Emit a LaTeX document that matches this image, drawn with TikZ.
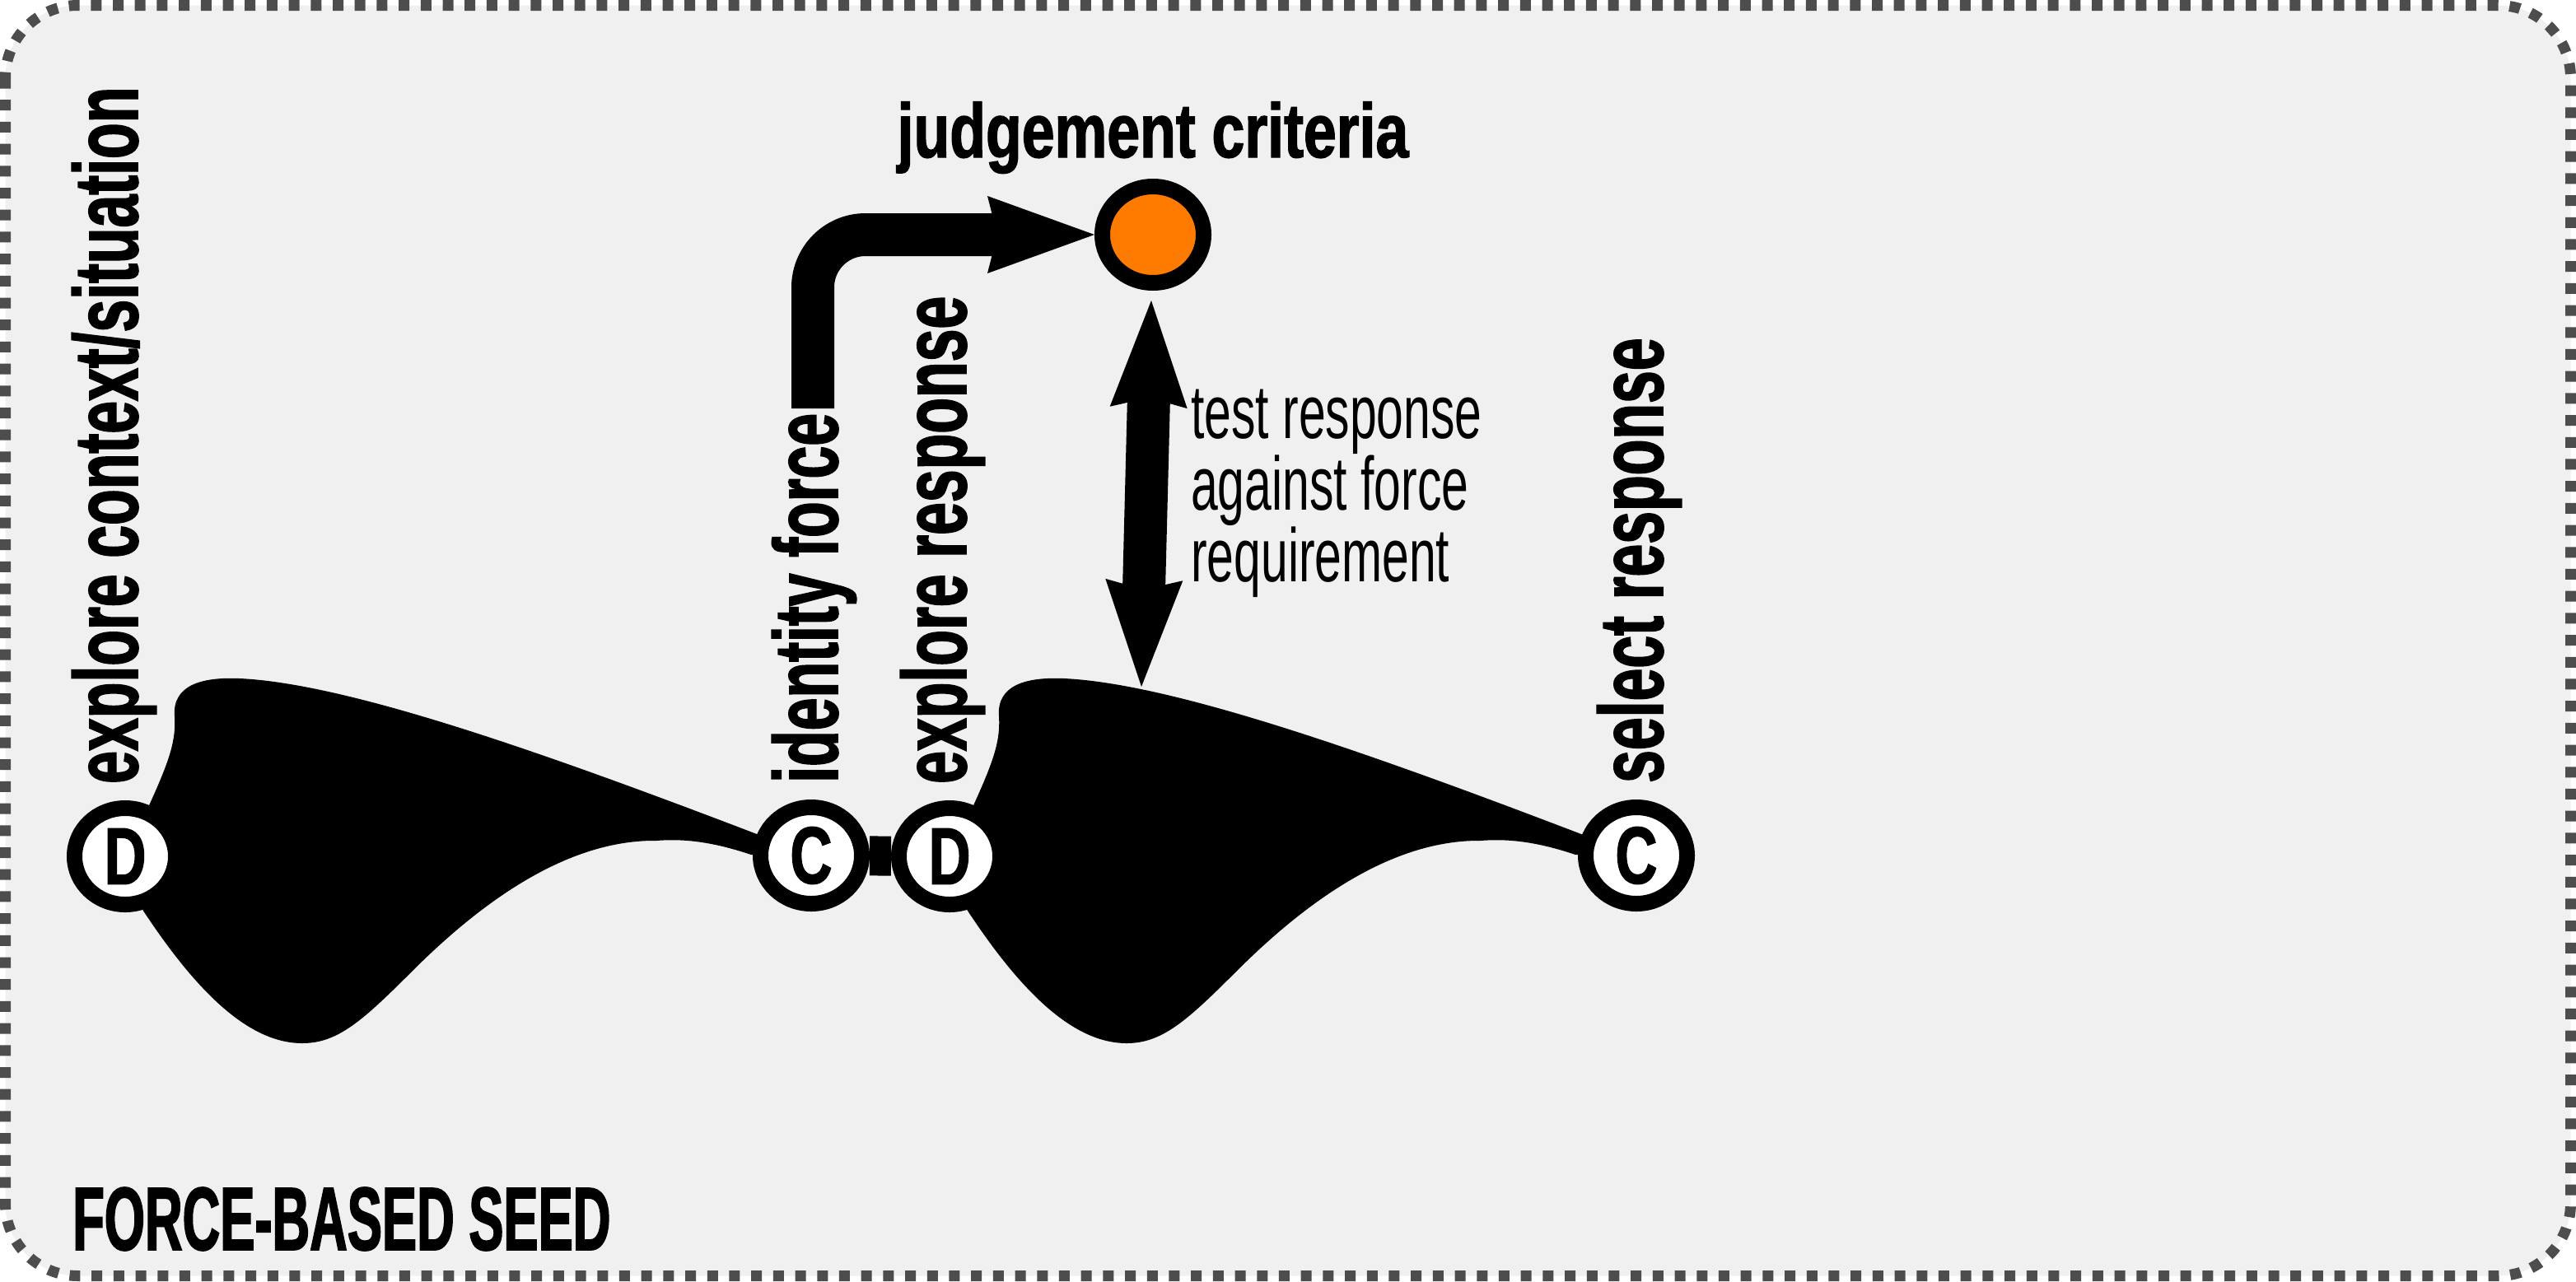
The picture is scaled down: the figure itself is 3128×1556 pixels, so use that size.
\documentclass[tikz,border=0pt]{standalone}
\usepackage{fontspec}
\usetikzlibrary{arrows.meta,shapes.geometric,backgrounds}
\newfontfamily\stagefont[FakeStretch=0.72,FakeBold=1.5]{Liberation Sans}
\newfontfamily\labelfont[FakeStretch=0.65,FakeBold=1.5]{Liberation Sans}
\newfontfamily\critfont[FakeStretch=0.77,FakeBold=1.5]{Liberation Sans}
\newfontfamily\seedfont[FakeStretch=0.58,FakeBold=1.5]{Liberation Sans}
\newfontfamily\notefont[FakeStretch=0.64]{Liberation Sans}
\definecolor{framegray}{HTML}{4D4D4D}
\definecolor{framefill}{HTML}{F0F0F0}
\definecolor{critorange}{HTML}{FF7B00}
\tikzset{
  fatstealth/.tip={Stealth[length=130pt,width=94pt,inset=12pt,line width=0pt]},
  seedframe/.style={draw=framegray,fill=framefill,line width=13pt,dash pattern=on 13pt off 13.7pt,rounded corners=88pt},
  stage/.style={ellipse,draw=black,line width=19pt,fill=white,minimum width=123pt,minimum height=117pt,inner sep=0pt,font=\stagefont\bfseries\fontsize{98}{98}\selectfont},
  critnode/.style={stage,fill=critorange},
  vlabel/.style={rotate=90,anchor=base west,inner sep=0pt,font=\labelfont\bfseries\fontsize{110}{110}\selectfont},
  critlabel/.style={anchor=base,inner sep=0pt,font=\critfont\bfseries\fontsize{93}{93}\selectfont},
  seedlabel/.style={anchor=base west,inner sep=0pt,font=\seedfont\bfseries\fontsize{109}{109}\selectfont},
  notelabel/.style={anchor=base west,inner sep=0pt,align=left,font=\notefont\fontsize{92}{81}\selectfont},
  link/.style={draw=black,line width=48pt},
  fat arrow/.style={draw=black,line width=52pt,-fatstealth}
}
\begin{document}
\begin{tikzpicture}[x=1pt,y=-1pt]
\useasboundingbox (0,0) rectangle (3128,1556);
% stages
\node[stage] (d1) at (152,1040) {D};
\node[stage] (c1) at (985,1039) {C};
\node[stage] (d2) at (1153,1040) {D};
\node[stage] (c2) at (1987,1039) {C};
\node[critnode] (crit) at (1400,285) {};
% labels
\node[vlabel] (l1) at ([shift={(15pt,20pt)}]d1.north) {explore context/situation};
\node[vlabel] (l2) at ([shift={(32pt,20pt)}]c1.north) {identity force};
\node[vlabel] (l3) at ([shift={(20pt,20pt)}]d2.north) {explore response};
\node[vlabel] (l4) at ([shift={(32pt,20pt)}]c2.north) {select response};
\node[critlabel] (critname) at ([yshift=26pt]crit.north) {judgement criteria};
\node[notelabel] (note) at (1446,706) {test response\\against force\\requirement};
\node[seedlabel] (seed) at (88,1518) {FORCE-BASED SEED};
% background: frame, funnels, link
\begin{scope}[on background layer]
\draw[seedframe] (6.5,6.5) rectangle (3121.5,1549.5);
\foreach \dx in {0,1001}
  \fill[black,xshift=\dx pt] (152,1040) -- (182,976)
    .. controls (205,925) and (214,900) .. (212,870)
    .. controls (209,832) and (245,822) .. (291,824)
    .. controls (420,830) and (650,910) .. (919,1013)
    -- (985,1039) -- (912,1038)
    .. controls (870,1024) and (835,1018) .. (797,1021)
    .. controls (700,1020) and (600,1080) .. (500,1180)
    .. controls (440,1240) and (410,1267) .. (367,1267)
    .. controls (300,1267) and (235,1200) .. (170,1100)
    -- cycle;
\draw[link] (c1) -- (d2);
\end{scope}
% arrows
\coordinate (forcefoot) at (987,496);
\coordinate (blobtop) at (1386,834);
\draw[fat arrow,rounded corners=64pt] (forcefoot) |- (crit.west);
\draw[fat arrow,fatstealth-fatstealth,shorten <=12pt] (crit) -- (blobtop);
\end{tikzpicture}
\end{document}
